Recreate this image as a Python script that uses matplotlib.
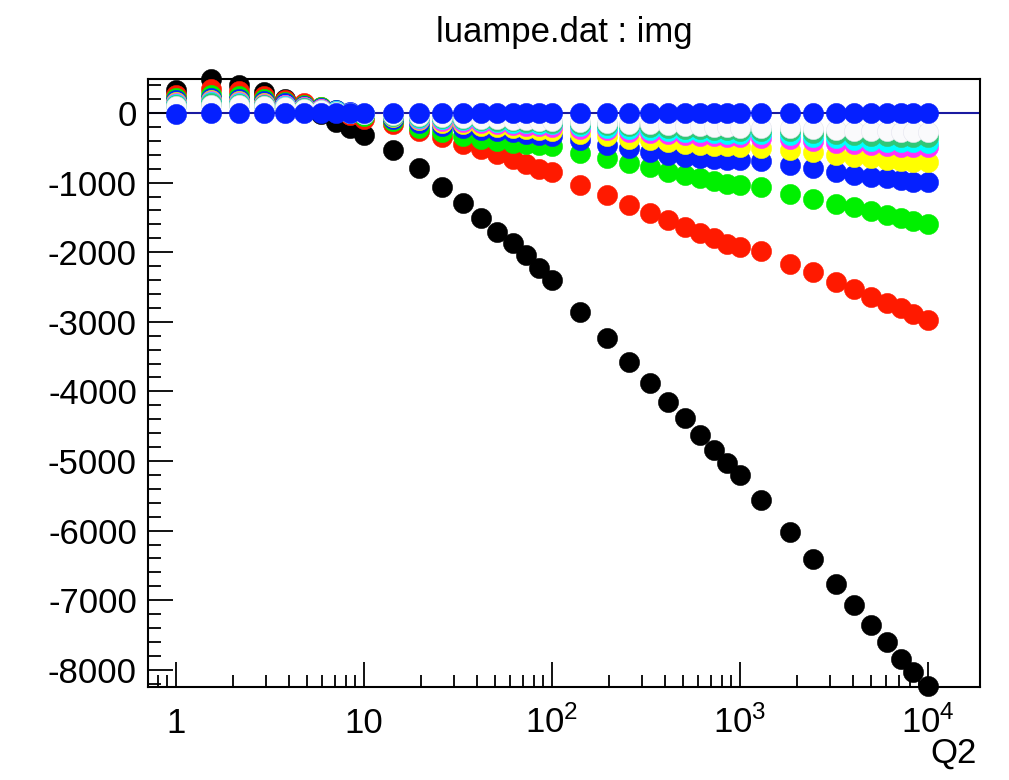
import numpy as np
import matplotlib
matplotlib.use("Agg")
import matplotlib.pyplot as plt
from matplotlib.ticker import FixedLocator, LogLocator, NullFormatter

plt.rcParams['font.family'] = ['Liberation Sans', 'DejaVu Sans']
plt.rcParams['mathtext.fontset'] = 'custom'
plt.rcParams['mathtext.rm'] = 'Liberation Sans'
plt.rcParams['mathtext.it'] = 'Liberation Sans'
plt.rcParams['axes.unicode_minus'] = False

# ---------- data ----------
q2 = [1, 1.53, 2.17, 2.95, 3.8, 4.8, 5.88, 7.1, 8.43,
      10, 14.2, 19.7, 26, 33.5, 42, 51, 62, 73, 85,
      100, 141, 195, 258, 332, 415, 510, 613, 727, 850,
      1000, 1290, 1850, 2450, 3240, 4040, 4950, 6030, 7160, 8330, 10000]

black = [330, 490, 400, 300, 200, 90, -10, -130, -220,
         -320, -532, -795, -1068, -1298, -1513, -1705, -1873, -2040, -2232,
         -2400, -2855, -3237, -3573, -3875, -4148, -4387, -4626, -4842, -5033,
         -5201, -5560, -6027, -6412, -6772, -7073, -7349, -7596, -7845, -8037, -8230]

red = [260, 340, 320, 250, 190, 150, 90, 30, -30,
       -90, -160, -260, -350, -440, -520, -590, -660, -730, -800,
       -850, -1034, -1178, -1322, -1432, -1537, -1633, -1720, -1800, -1880,
       -1925, -1983, -2174, -2285, -2422, -2530, -2644, -2724, -2807, -2890, -2974]

green = [210, 260, 240, 200, 160, 120, 80, 40, 0,
         -50, -120, -210, -280, -330, -370, -400, -425, -445, -465,
         -480, -580, -651, -723, -771, -843, -891, -939, -980, -1015,
         -1040, -1065, -1160, -1232, -1305, -1356, -1412, -1463, -1502, -1547, -1590]

blue = [180, 220, 200, 170, 140, 100, 70, 40, 10,
        -20, -80, -140, -190, -220, -245, -265, -280, -295, -310,
        -325, -388, -460, -508, -556, -603, -627, -651, -665, -675,
        -680, -690, -747, -795, -843, -890, -915, -940, -963, -985, -995]

yellow = [155, 190, 175, 150, 120, 90, 60, 30, 5,
          -20, -60, -105, -140, -165, -185, -200, -215, -230, -245,
          -260, -300, -335, -370, -395, -420, -440, -455, -470, -480,
          -490, -500, -525, -560, -600, -630, -650, -670, -685, -700, -710]

magenta = [140, 170, 160, 135, 110, 80, 55, 25, 0,
           -20, -50, -85, -110, -130, -145, -160, -170, -180, -190,
           -200, -225, -250, -270, -290, -305, -315, -325, -335, -345,
           -350, -355, -370, -400, -425, -450, -465, -475, -485, -490, -495]

cyan = [125, 155, 145, 120, 100, 75, 50, 25, 0,
        -20, -45, -70, -90, -105, -120, -130, -140, -150, -160,
        -165, -190, -210, -230, -245, -260, -270, -280, -290, -300,
        -305, -305, -320, -345, -365, -385, -400, -410, -415, -420, -425]

teal = [115, 140, 130, 110, 90, 70, 45, 20, 0,
        -15, -40, -60, -75, -90, -100, -110, -120, -130, -135,
        -140, -160, -175, -190, -205, -215, -225, -235, -245, -250,
        -255, -255, -265, -285, -300, -315, -325, -335, -340, -345, -350]

white = [100, 120, 115, 95, 80, 60, 40, 20, 0,
         -10, -30, -45, -60, -70, -80, -90, -95, -105, -110,
         -115, -130, -145, -155, -165, -175, -185, -190, -200, -205,
         -210, -210, -220, -235, -245, -255, -260, -265, -270, -275, -280]

top = [-20, 0, 0, 0, 0, 0, 0, 0, 0,
       0, 0, 0, 0, 0, 0, 0, 0, 0, 0,
       0, 0, 0, 0, 0, 0, 0, 0, 0, 0,
       0, 0, 0, 0, 0, 0, 0, 0, 0, 0, 0]

series = [
    (black, '#000000', '#000000'),
    (red, '#ff1a00', '#ff1a00'),
    (green, '#00f000', '#00f000'),
    (blue, '#0520ff', '#0520ff'),
    (yellow, '#ffff00', '#ffff00'),
    (magenta, '#ff33ff', '#ff33ff'),
    (cyan, '#00ffff', '#00ffff'),
    (teal, '#2fc878', '#2fc878'),
    (white, '#fafafc', '#e4e4ee'),
    (top, '#0520ff', '#0520ff'),
]

# ---------- figure ----------
fig = plt.figure(figsize=(10.09, 7.8), dpi=100)
ax = fig.add_axes([0.1467, 0.1192, 0.8246, 0.7795])

ax.axhline(0, color='#1a1aa0', lw=1.5, zorder=1)

for i, (vals, fc, ec) in enumerate(series):
    ax.plot(q2, vals, 'o', ms=14.5, mfc=fc, mec=ec, mew=0.4,
            clip_on=False, zorder=2 + i)

ax.set_xscale('log')
ax.set_xlim(0.71, 18900)
ax.set_ylim(-8247, 488)

ax.xaxis.set_major_locator(FixedLocator([1, 10, 100, 1000, 10000]))
ax.set_xticklabels(['1', '10', r'$10^{2}$', r'$10^{3}$', r'$10^{4}$'])
ax.xaxis.set_minor_locator(LogLocator(base=10, subs=np.arange(2, 10)))
ax.xaxis.set_minor_formatter(NullFormatter())
for lab in ax.get_xticklabels():
    lab.set_verticalalignment('baseline')

ax.yaxis.set_major_locator(FixedLocator(np.arange(-8000, 1, 1000)))
ax.yaxis.set_minor_locator(FixedLocator(np.arange(-8200, 401, 200)))

ax.tick_params(axis='both', which='both', direction='in', top=False,
               right=False, width=1.3, labelsize=25)
ax.tick_params(axis='y', which='major', length=18, pad=8)
ax.tick_params(axis='y', which='minor', length=9)
ax.tick_params(axis='x', which='major', length=18, pad=33)
ax.tick_params(axis='x', which='minor', length=9)

for sp in ax.spines.values():
    sp.set_linewidth(1.5)

ax.set_title('luampe.dat : img', fontsize=25, pad=27)
fig.text(0.968, 0.022, 'Q2', fontsize=25, ha='right', va='baseline')

fig.savefig('out.png', dpi=100)
